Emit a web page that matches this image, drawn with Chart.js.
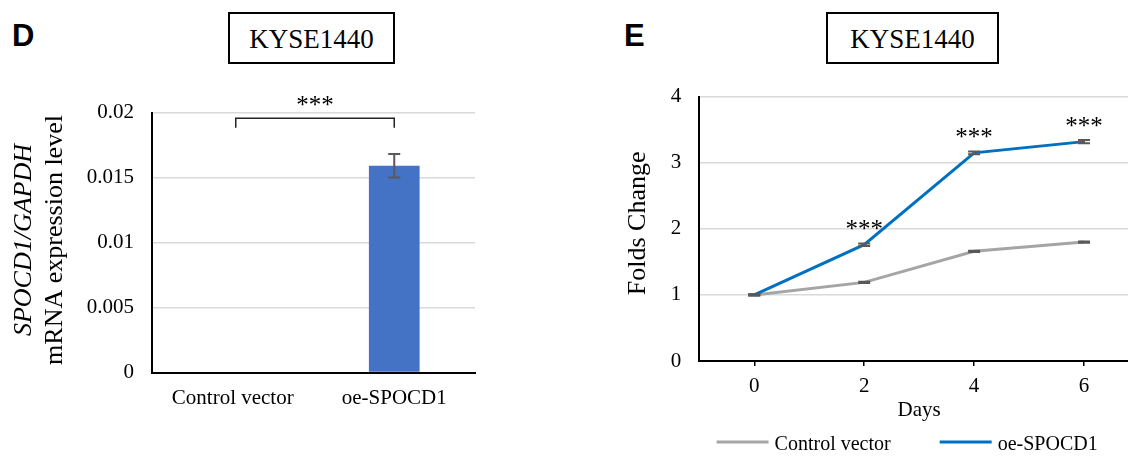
<!DOCTYPE html>
<html>
<head>
<meta charset="utf-8">
<script src="https://cdn.jsdelivr.net/npm/chart.js@4.4.1/dist/chart.umd.min.js"></script>
<style>
  html, body { margin: 0; padding: 0; width: 1128px; height: 456px; overflow: hidden; background: #fff; }
  .letter { position: absolute; font: bold 31px "Liberation Sans", Arial, sans-serif; line-height: 31px; }
  .titleBox { position: absolute; top: 12px; height: 52px; box-sizing: border-box; border: 2px solid #000;
              font: 27px "Liberation Serif", "Times New Roman", serif; display: flex; align-items: center;
              justify-content: center; padding-top: 2px; }
  canvas { position: absolute; top: 0; }
</style>
</head>
<body>
<div class="letter" style="left:12px;top:20px">D</div>
<div class="titleBox" style="left:228px;width:167px">KYSE1440</div>
<div class="letter" style="left:624px;top:20px">E</div>
<div class="titleBox" style="left:826px;width:173px">KYSE1440</div>
<canvas id="barChart" width="560" height="456" style="left:0"></canvas>
<canvas id="lineChart" width="579" height="456" style="left:560px"></canvas>
<script>
// panel D data
const barCategories = ['Control vector', 'oe-SPOCD1'];
const barValues = [0, 0.0159];
const barErrors = [0, 0.0009];
const barTicks = [0, 0.005, 0.01, 0.015, 0.02];

// panel E data
const days = ['0', '2', '4', '6'];
const controlFolds = [1.0, 1.19, 1.66, 1.80];
const oeFolds = [1.0, 1.76, 3.15, 3.32];
const controlErrors = [0.01, 0.01, 0.01, 0.01];
const oeErrors = [0.01, 0.02, 0.02, 0.025];
const foldTicks = [0, 1, 2, 3, 4];
const starredDays = [1, 2, 3];

Chart.defaults.font.family = '"Liberation Serif", "Times New Roman", serif';
Chart.defaults.color = '#000';

const serif = '"Liberation Serif", "Times New Roman", serif';

// error bars from dataset.errors
const errorBars = {
    id: 'errorBars',
    afterDatasetsDraw(chart, args, opts) {
        const ctx = chart.ctx;
        const y = chart.scales.y;
        chart.data.datasets.forEach((ds, i) => {
            if (!ds.errors) return;
            chart.getDatasetMeta(i).data.forEach((el, j) => {
                const err = ds.errors[j];
                if (!err) return;
                const top = y.getPixelForValue(ds.data[j] + err);
                const bottom = y.getPixelForValue(ds.data[j] - err);
                ctx.save();
                ctx.strokeStyle = opts.color;
                ctx.lineWidth = opts.width;
                ctx.beginPath();
                ctx.moveTo(el.x, top);
                ctx.lineTo(el.x, bottom);
                ctx.moveTo(el.x - opts.cap, top);
                ctx.lineTo(el.x + opts.cap, top);
                ctx.moveTo(el.x - opts.cap, bottom);
                ctx.lineTo(el.x + opts.cap, bottom);
                ctx.stroke();
                ctx.restore();
            });
        });
    }
};

// rotated y title, one or more lines
const yTitle = {
    id: 'yTitle',
    afterDraw(chart, args, opts) {
        const ctx = chart.ctx;
        const cy = (chart.chartArea.top + chart.chartArea.bottom) / 2 + opts.shift;
        opts.lines.forEach(line => {
            ctx.save();
            ctx.translate(line.x, cy);
            ctx.rotate(-Math.PI / 2);
            ctx.font = line.font;
            ctx.fillStyle = '#000';
            ctx.textAlign = 'center';
            ctx.textBaseline = 'alphabetic';
            ctx.fillText(line.text, 0, 0);
            ctx.restore();
        });
    }
};

// bracket with *** between the two bars
const bracket = {
    id: 'bracket',
    afterDraw(chart, args, opts) {
        const {ctx, scales: {x, y}} = chart;
        const x1 = x.getPixelForValue(0) + 3;
        const x2 = x.getPixelForValue(1);
        const yLine = y.getPixelForValue(opts.at);
        const yEnd = y.getPixelForValue(opts.dropTo);
        ctx.save();
        ctx.strokeStyle = '#222';
        ctx.lineWidth = 1.5;
        ctx.beginPath();
        ctx.moveTo(x1, yEnd);
        ctx.lineTo(x1, yLine);
        ctx.lineTo(x2, yLine);
        ctx.lineTo(x2, yEnd);
        ctx.stroke();
        ctx.font = '25px ' + serif;
        ctx.fillStyle = '#000';
        ctx.textAlign = 'center';
        ctx.fillText('***', (x1 + x2) / 2, yLine - 5.5);
        ctx.restore();
    }
};

// *** above chosen points of one dataset
const stars = {
    id: 'stars',
    afterDraw(chart, args, opts) {
        const ctx = chart.ctx;
        const meta = chart.getDatasetMeta(opts.dataset);
        ctx.save();
        ctx.font = '25px ' + serif;
        ctx.fillStyle = '#000';
        ctx.textAlign = 'center';
        opts.points.forEach(i => {
            const el = meta.data[i];
            ctx.fillText('***', el.x, el.y - 8);
        });
        ctx.restore();
    }
};

// line legend under the chart
const lineLegend = {
    id: 'lineLegend',
    afterDraw(chart, args, opts) {
        const ctx = chart.ctx;
        ctx.save();
        ctx.font = opts.font;
        const items = chart.data.datasets.map(ds => ({
            label: ds.label,
            color: ds.borderColor,
            w: opts.lineLength + opts.textGap + ctx.measureText(ds.label).width
        }));
        const total = items.reduce((s, it) => s + it.w, 0) + opts.itemGap * (items.length - 1);
        let x = (chart.chartArea.left + chart.chartArea.right) / 2 + opts.shift - total / 2;
        items.forEach(it => {
            ctx.strokeStyle = it.color;
            ctx.lineWidth = 3;
            ctx.beginPath();
            ctx.moveTo(x, opts.y - 3);
            ctx.lineTo(x + opts.lineLength, opts.y - 3);
            ctx.stroke();
            ctx.fillStyle = '#000';
            ctx.textBaseline = 'middle';
            ctx.fillText(it.label, x + opts.lineLength + opts.textGap, opts.y);
            x += it.w + opts.itemGap;
        });
        ctx.restore();
    }
};

new Chart(document.getElementById('barChart'), {
    type: 'bar',
    data: {
        labels: barCategories,
        datasets: [{
            data: barValues,
            errors: barErrors,
            backgroundColor: '#4472C4',
            barPercentage: 0.314,
            categoryPercentage: 1
        }]
    },
    options: {
        responsive: false,
        animation: false,
        events: [],
        layout: { padding: { top: 112.5, right: 85, left: 0, bottom: 0 } },
        scales: {
            x: {
                grid: { display: false, drawTicks: false },
                border: { color: '#000', width: 2 },
                ticks: { font: { size: 21 }, padding: 13 },
                afterFit: scale => { scale.height = 83.5; }
            },
            y: {
                min: 0,
                max: 0.02,
                afterBuildTicks: scale => { scale.ticks = barTicks.map(v => ({ value: v })); },
                grid: { color: '#d9d9d9', lineWidth: 1.5, drawTicks: false },
                border: { color: '#000', width: 2 },
                ticks: { font: { size: 21 }, padding: 18, callback: v => String(v) },
                afterFit: scale => { scale.width = 152; }
            }
        },
        plugins: {
            legend: { display: false },
            tooltip: { enabled: false },
            errorBars: { color: '#595959', width: 2, cap: 6 },
            bracket: { at: 0.01955, dropTo: 0.01883 },
            yTitle: {
                shift: -2.5,
                lines: [
                    { text: 'SPOCD1/GAPDH', font: 'italic 26px ' + serif, x: 31 },
                    { text: 'mRNA expression level', font: '26px ' + serif, x: 62 }
                ]
            }
        }
    },
    plugins: [errorBars, bracket, yTitle]
});

new Chart(document.getElementById('lineChart'), {
    type: 'line',
    data: {
        labels: days,
        datasets: [{
            label: 'Control vector',
            data: controlFolds,
            errors: controlErrors,
            borderColor: '#A5A5A5',
            borderWidth: 3,
            pointRadius: 0,
            order: 1
        }, {
            label: 'oe-SPOCD1',
            data: oeFolds,
            errors: oeErrors,
            borderColor: '#0070C0',
            borderWidth: 3,
            pointRadius: 0,
            order: 0
        }]
    },
    options: {
        responsive: false,
        animation: false,
        events: [],
        layout: { padding: { top: 96.7, right: 0, left: 0, bottom: 0 } },
        scales: {
            x: {
                offset: true,
                grid: { drawOnChartArea: false, drawTicks: true, tickLength: 5, tickColor: '#000', lineWidth: 1.5 },
                border: { color: '#000', width: 2 },
                ticks: { font: { size: 21 }, padding: 8 },
                title: { display: true, text: 'Days', font: { size: 21 }, padding: { top: 0, bottom: 33 } },
                afterFit: scale => { scale.height = 95; }
            },
            y: {
                min: 0,
                max: 4,
                afterBuildTicks: scale => { scale.ticks = foldTicks.map(v => ({ value: v })); },
                grid: { color: '#d9d9d9', lineWidth: 1.5, drawTicks: false },
                border: { color: '#000', width: 2 },
                ticks: { font: { size: 21 }, padding: 18 },
                afterFit: scale => { scale.width = 139.3; }
            }
        },
        plugins: {
            legend: { display: false },
            tooltip: { enabled: false },
            errorBars: { color: '#595959', width: 2, cap: 6 },
            stars: { dataset: 1, points: starredDays },
            yTitle: {
                shift: -5.5,
                lines: [{ text: 'Folds Change', font: '26px ' + serif, x: 84.5 }]
            },
            lineLegend: { font: '20px ' + serif, y: 445, lineLength: 52, textGap: 6, itemGap: 49, shift: -12 }
        }
    },
    plugins: [errorBars, stars, yTitle, lineLegend]
});
</script>
</body>
</html>
